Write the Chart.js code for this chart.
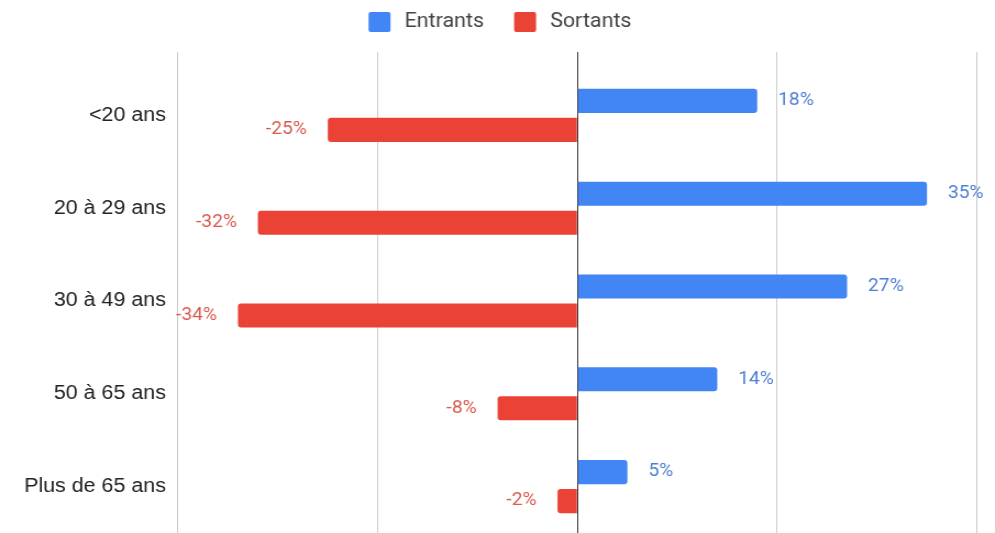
<!DOCTYPE html>
<html>
<head>
<meta charset="utf-8">
<script src="https://cdn.jsdelivr.net/npm/chart.js@4.4.1/dist/chart.umd.min.js"></script>
<style>
  html, body { margin: 0; padding: 0; background: #ffffff; overflow: hidden; }
  /* the chart is laid out narrower and widened horizontally */
  #wrap { width: 905px; height: 533px; transform: scaleX(1.0994); transform-origin: 0 0; }
</style>
</head>
<body>
<div id="wrap"><canvas id="chart"></canvas></div>
<script>
// Age groups (rows)
const categories = ['<20 ans', '20 à 29 ans', '30 à 49 ans', '50 à 65 ans', 'Plus de 65 ans'];
// Share of arrivals per age group (%)
const entrants = [18, 35, 27, 14, 5];
// Share of departures per age group (%), drawn to the left
const sortants = [-25, -32, -34, -8, -2];
const seriesNames = ['Entrants', 'Sortants'];
// Value axis ticks (%)
const xTicks = [-40, -20, 0, 20, 40];

const BLUE = '#4285F4';
const RED = '#EA4335';

// Writes "NN%" beside the end of each bar
const valueLabels = {
  id: 'valueLabels',
  afterDatasetsDraw(chart) {
    const ctx = chart.ctx;
    chart.data.datasets.forEach((ds, di) => {
      const meta = chart.getDatasetMeta(di);
      meta.data.forEach((bar, i) => {
        const v = ds.data[i];
        ctx.save();
        ctx.font = '17.5px Roboto';
        ctx.fillStyle = ds.labelColor;
        ctx.textBaseline = 'middle';
        ctx.textAlign = v >= 0 ? 'left' : 'right';
        ctx.fillText(v + '%', bar.x + (v >= 0 ? 19 : -19), bar.y);
        ctx.restore();
      });
    });
  }
};

// Series key centred above the plot: square swatch, then name
const seriesKey = {
  id: 'seriesKey',
  afterDraw(chart, args, opts) {
    const ctx = chart.ctx;
    ctx.save();
    ctx.font = opts.size + 'px Roboto';
    const items = chart.data.datasets.map(ds => ({
      text: ds.label,
      color: ds.backgroundColor,
      w: opts.box + opts.textGap + ctx.measureText(ds.label).width
    }));
    const total = items.reduce((s, it) => s + it.w, 0) + opts.itemGap * (items.length - 1);
    let x = opts.centerX - total / 2;
    ctx.textBaseline = 'middle';
    ctx.textAlign = 'left';
    items.forEach(it => {
      ctx.fillStyle = it.color;
      ctx.beginPath();
      ctx.roundRect(x, opts.centerY - opts.box / 2, opts.box, opts.box, 2);
      ctx.fill();
      ctx.fillStyle = opts.color;
      ctx.fillText(it.text, x + opts.box + opts.textGap, opts.centerY);
      x += it.w + opts.itemGap;
    });
    ctx.restore();
  }
};

new Chart(document.getElementById('chart'), {
  type: 'bar',
  data: {
    labels: categories,
    datasets: [
      {
        label: seriesNames[0],
        data: entrants,
        backgroundColor: BLUE,
        labelColor: '#4f7fd3',
        borderRadius: 3,
        categoryPercentage: 0.625,
        barPercentage: 0.83
      },
      {
        label: seriesNames[1],
        data: sortants,
        backgroundColor: RED,
        labelColor: '#d95a50',
        borderRadius: 3,
        categoryPercentage: 0.625,
        barPercentage: 0.83
      }
    ]
  },
  options: {
    indexAxis: 'y',
    responsive: true,
    maintainAspectRatio: false,
    animation: false,
    layout: { padding: { top: 52, left: 21, right: 16.4, bottom: 0 } },
    plugins: {
      tooltip: { enabled: false },
      legend: { display: false },
      seriesKey: {
        centerX: 454.8,
        centerY: 22,
        box: 20,
        textGap: 12.8,
        itemGap: 27.3,
        size: 19.5,
        color: '#444444'
      }
    },
    scales: {
      x: {
        position: 'top',
        min: xTicks[0],
        max: xTicks[xTicks.length - 1],
        afterBuildTicks(scale) { scale.ticks = xTicks.map(v => ({ value: v })); },
        ticks: { display: false },
        border: { display: false },
        grid: {
          drawTicks: true,
          tickLength: 17,
          lineWidth: 1,
          color: ctx => (ctx.tick && ctx.tick.value === 0) ? '#333333' : '#cccccc'
        }
      },
      y: {
        afterFit(scale) {
          scale.width = 140.9;
          // rows run to the bottom edge; no extra room for label overhang
          scale.paddingTop = 0;
          scale.paddingBottom = 0;
        },
        border: { display: false },
        grid: { display: false, drawTicks: false },
        ticks: {
          padding: 11,
          color: '#222222',
          font: { family: '"Liberation Sans", Arial, sans-serif', size: 19.5 }
        }
      }
    }
  },
  plugins: [valueLabels, seriesKey]
});
</script>
</body>
</html>
